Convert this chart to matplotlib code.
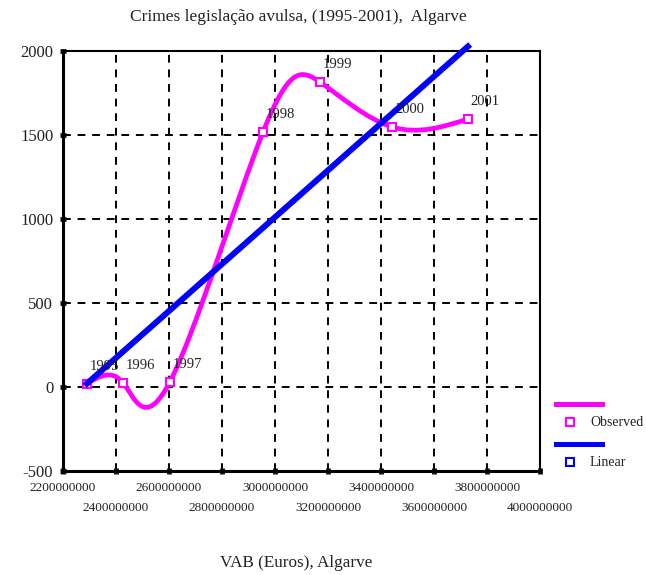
import numpy as np
import matplotlib
matplotlib.use('Agg')
import matplotlib.pyplot as plt
from matplotlib.path import Path
from matplotlib.patches import PathPatch
from matplotlib.lines import Line2D

plt.rcParams['font.family'] = ['Liberation Serif', 'DejaVu Serif']

# Data
years = ['1995', '1996', '1997', '1998', '1999', '2000', '2001']
vab = [2290e6, 2426e6, 2604e6, 2955e6, 3170e6, 3442e6, 3728e6]
crimes = [20, 26, 32, 1518, 1815, 1548, 1595]
linear_fit = [20, 210, 458, 948, 1248, 1628, 2027]

x_ticks = [2200e6 + 200e6 * i for i in range(10)]
y_ticks = [-500, 0, 500, 1000, 1500, 2000]

MAGENTA = '#FF00FF'
BLUE = '#0000FF'
TXT = '#222222'


def spline_slopes(v):
    # natural cubic spline derivatives, uniform parameter
    v = np.asarray(v, float)
    n = len(v)
    A = np.zeros((n, n))
    r = np.zeros(n)
    A[0, 0], A[0, 1] = 2, 1
    r[0] = 3 * (v[1] - v[0])
    A[-1, -2], A[-1, -1] = 1, 2
    r[-1] = 3 * (v[-1] - v[-2])
    for i in range(1, n - 1):
        A[i, i - 1], A[i, i], A[i, i + 1] = 1, 4, 1
        r[i] = 3 * (v[i + 1] - v[i - 1])
    return np.linalg.solve(A, r)


def smooth_path(x, y):
    # parametric spline through the points, as bezier segments
    dx, dy = spline_slopes(x), spline_slopes(y)
    verts = [(x[0], y[0])]
    codes = [Path.MOVETO]
    for i in range(len(x) - 1):
        verts += [(x[i] + dx[i] / 3, y[i] + dy[i] / 3),
                  (x[i + 1] - dx[i + 1] / 3, y[i + 1] - dy[i + 1] / 3),
                  (x[i + 1], y[i + 1])]
        codes += [Path.CURVE4] * 3
    return Path(verts, codes)


fig = plt.figure(figsize=(6.46, 5.75), dpi=100)
ax = fig.add_axes([63 / 646, 1 - 471 / 575, (540 - 63) / 646, (471 - 51) / 575])

ax.set_xlim(2200e6, 4000e6)
ax.set_ylim(-500, 2000)
ax.set_xticks(x_ticks)
ax.set_yticks(y_ticks)
ax.set_xticklabels([f'{int(v)}' for v in x_ticks], fontsize=9.5, color=TXT)
ax.set_yticklabels([str(v) for v in y_ticks], fontsize=12, color=TXT)
ax.tick_params(direction='inout', length=4, width=3.5, color='#111111')
ax.tick_params(axis='x', pad=6)
ax.tick_params(axis='y', pad=5)
for t in ax.xaxis.get_major_ticks()[1::2]:
    t.set_pad(6 + 14.5)

ax.grid(True, color='black', linestyle=(0, (4, 3.5)), linewidth=1.4)
ax.set_axisbelow(True)
for side in ['left', 'bottom']:
    ax.spines[side].set_linewidth(2.2)
for side in ['top', 'right']:
    ax.spines[side].set_linewidth(1.5)

# observed (smoothed) line
ax.add_patch(PathPatch(smooth_path(vab, crimes), fill=False, edgecolor=MAGENTA,
                       linewidth=3.4, zorder=3, clip_on=False))
ax.plot(vab, crimes, linestyle='none', marker='s', markersize=6, mfc='white',
        mec=MAGENTA, mew=1.5, zorder=4, clip_on=False)

# linear fit
ax.plot(vab, linear_fit, color=BLUE, linewidth=4.3, zorder=5, clip_on=False)

for yr, xv, yv in zip(years, vab, crimes):
    ax.annotate(yr, (xv, yv), xytext=(12.5, 12.5), textcoords='offset points',
                ha='center', va='center', fontsize=10.5, color=TXT, zorder=6)

# titles
fig.text(298 / 646, 1 - 17 / 575, 'Crimes legislação avulsa, (1995-2001),  Algarve',
         ha='center', va='center', fontsize=12.5, color=TXT)
fig.text(296 / 646, 1 - 563 / 575, 'VAB (Euros), Algarve',
         ha='center', va='center', fontsize=12.3, color=TXT)


# legend
def fx(px):
    return px / 646


def fy(py):
    return 1 - py / 575


for color, name, ly in [(MAGENTA, 'Observed', 404), (BLUE, 'Linear', 444)]:
    fig.add_artist(Line2D([fx(556), fx(602)], [fy(ly), fy(ly)], color=color,
                          linewidth=3.6, transform=fig.transFigure))
    fig.add_artist(Line2D([fx(570)], [fy(ly + 18)], marker='s', markersize=6,
                          mfc='white', mec=color, mew=1.5, linestyle='none',
                          transform=fig.transFigure))
    fig.text(fx(590), fy(ly + 19), name, ha='left', va='center', fontsize=10,
             color=TXT)

fig.savefig('out.png', dpi=100)
